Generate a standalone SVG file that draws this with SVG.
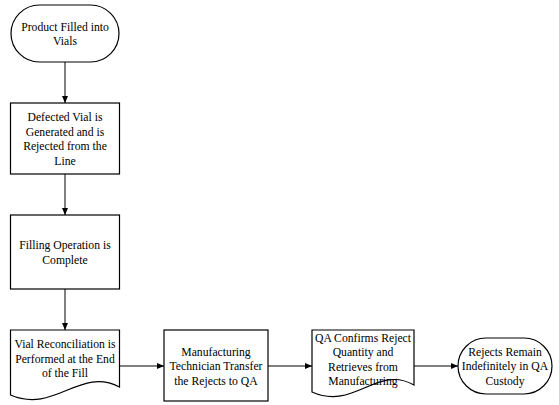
<svg xmlns="http://www.w3.org/2000/svg" width="559" height="405" viewBox="0 0 559 405">
<defs>
<marker id="arr" markerWidth="8" markerHeight="8" refX="7" refY="4" orient="auto" markerUnits="userSpaceOnUse">
<path d="M0,1 L7,4 L0,7 Z" fill="#000"/>
</marker>
<style>
.s{fill:#fff;stroke:#000;stroke-width:1.2}
.c{fill:none;stroke:#000;stroke-width:1;marker-end:url(#arr)}
.t{font-family:'Liberation Serif','DejaVu Serif','Times New Roman',serif;font-size:11.7px;fill:#000;text-anchor:middle}
</style>
</defs>
<rect width="559" height="405" fill="#fff"/>
<g id="connectors">
<line class="c" x1="65" y1="62" x2="65" y2="103"/>
<line class="c" x1="65" y1="174" x2="65" y2="215"/>
<line class="c" x1="65" y1="289" x2="65" y2="330"/>
<line class="c" x1="119.5" y1="366" x2="164" y2="366"/>
<line class="c" x1="268" y1="366" x2="312" y2="366"/>
<line class="c" x1="414" y1="366" x2="458" y2="366"/>
</g>
<g id="n1">
<rect class="s" x="11" y="5" width="108" height="57" rx="28.5" ry="28.5"/>
<text class="t" font-family="Liberation Serif, serif" x="65" y="30.5">Product Filled into</text>
<text class="t" font-family="Liberation Serif, serif" x="65" y="45">Vials</text>
</g>
<g id="n2">
<rect class="s" x="10.5" y="103" width="109" height="71"/>
<text class="t" font-family="Liberation Serif, serif" x="65" y="121">Defected Vial is</text>
<text class="t" font-family="Liberation Serif, serif" x="65" y="135.5">Generated and is</text>
<text class="t" font-family="Liberation Serif, serif" x="65" y="150">Rejected from the</text>
<text class="t" font-family="Liberation Serif, serif" x="65" y="164.5">Line</text>
</g>
<g id="n3">
<rect class="s" x="10.5" y="215" width="109" height="74"/>
<text class="t" font-family="Liberation Serif, serif" x="65" y="249">Filling Operation is</text>
<text class="t" font-family="Liberation Serif, serif" x="65" y="263.5">Complete</text>
</g>
<g id="n4">
<path class="s" d="M10.5,330 H119.5 V387 C80,366 55,414 10.5,395 Z"/>
<text class="t" font-family="Liberation Serif, serif" x="65" y="348">Vial Reconciliation is</text>
<text class="t" font-family="Liberation Serif, serif" x="65" y="362.5">Performed at the End</text>
<text class="t" font-family="Liberation Serif, serif" x="65" y="377">of the Fill</text>
</g>
<g id="n5">
<rect class="s" x="164" y="330" width="104" height="71"/>
<text class="t" font-family="Liberation Serif, serif" x="216" y="355.5">Manufacturing</text>
<text class="t" font-family="Liberation Serif, serif" x="216" y="370">Technician Transfer</text>
<text class="t" font-family="Liberation Serif, serif" x="216" y="384.5">the Rejects to QA</text>
</g>
<g id="n6">
<path class="s" d="M312,330 H414 V385 C377,364 354,411 312,392 Z"/>
<text class="t" font-family="Liberation Serif, serif" x="363" y="341.5">QA Confirms Reject</text>
<text class="t" font-family="Liberation Serif, serif" x="363" y="356">Quantity and</text>
<text class="t" font-family="Liberation Serif, serif" x="363" y="370.5">Retrieves from</text>
<text class="t" font-family="Liberation Serif, serif" x="363" y="385">Manufacturing</text>
</g>
<g id="n7">
<rect class="s" x="458" y="338" width="94" height="56" rx="28" ry="28"/>
<text class="t" font-family="Liberation Serif, serif" x="505" y="355.5">Rejects Remain</text>
<text class="t" font-family="Liberation Serif, serif" x="505" y="370">Indefinitely in QA</text>
<text class="t" font-family="Liberation Serif, serif" x="505" y="384.5">Custody</text>
</g>
</svg>
